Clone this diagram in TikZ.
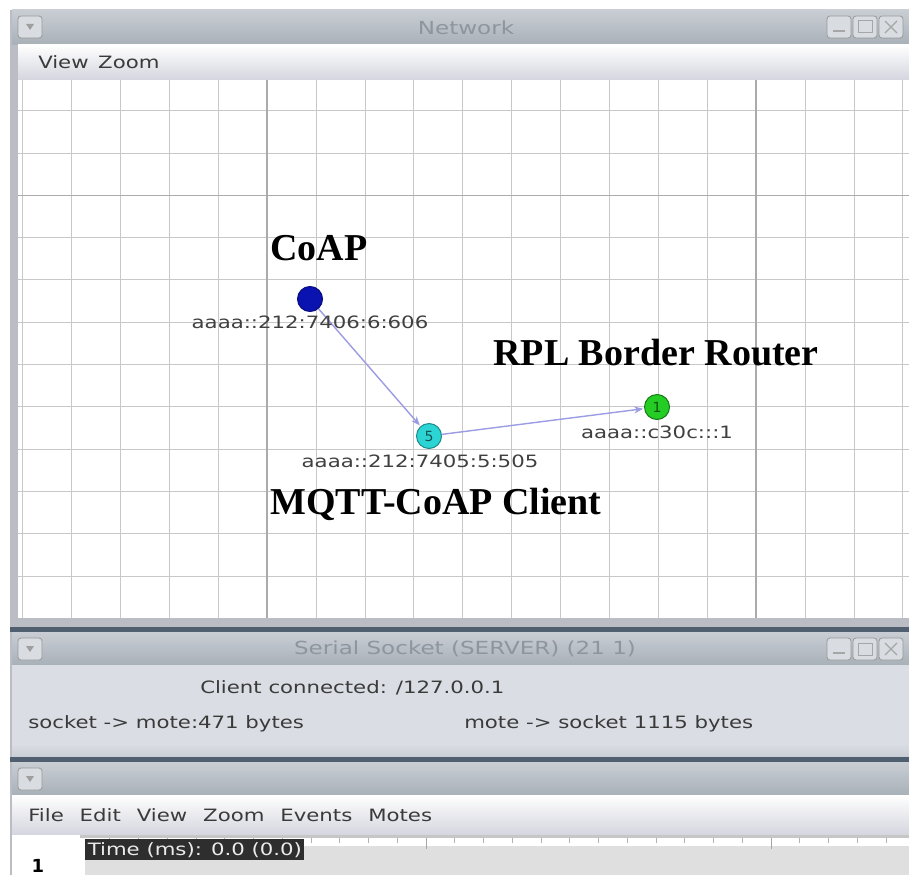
\documentclass[tikz,border=0pt]{standalone}
\usepackage{fontspec}
\setmainfont{Liberation Serif}
\newfontfamily\uifont{DejaVu Sans}
\newfontfamily\uibold{DejaVu Sans Bold}
\usetikzlibrary{arrows.meta}

\definecolor{titletop}{HTML}{C9CED4}
\definecolor{titlebot}{HTML}{A8B0B8}
\definecolor{titletext}{HTML}{8E969D}
\definecolor{framegray}{HTML}{BABEC4}
\definecolor{menubot}{HTML}{D4D5DE}
\definecolor{gridlight}{HTML}{C8C8C8}
\definecolor{griddark}{HTML}{ABABAB}
\definecolor{sepblue}{HTML}{4F5F70}
\definecolor{panelgray}{HTML}{DADDE3}
\definecolor{panellow}{HTML}{C9CDD5}
\definecolor{linkcol}{HTML}{9C9CE4}
\definecolor{labelgray}{HTML}{404040}
\definecolor{uitextcol}{HTML}{3A3A3A}
\definecolor{moteblue}{HTML}{0A12B0}
\definecolor{motecyan}{HTML}{2CD4D4}
\definecolor{motegreen}{HTML}{24CC24}

\begin{document}
\begin{tikzpicture}[x=1pt,y=-1pt,
  titlebar/.style={top color=titletop,bottom color=titlebot,draw=none},
  titletxt/.style={font=\uifont\fontsize{18}{20}\selectfont,xscale=1.28,text=titletext,inner sep=0},
  winbtn/.style={draw=gray!80,fill=titletop!70!white,rounded corners=3pt,line width=0.8pt},
  uitext/.style={font=\uifont\fontsize{17}{20}\selectfont,xscale=1.25,text=uitextcol,inner sep=0,anchor=base west},
  gridthin/.style={draw=gridlight,line width=1pt},
  gridthick/.style={draw=griddark,line width=1.6pt},
  addr/.style={font=\uifont\fontsize{17}{20}\selectfont,xscale=1.25,text=labelgray,inner sep=0},
  role/.style={font=\bfseries\fontsize{38}{40}\selectfont,text=black,inner sep=0},
  mote/.style={circle,minimum size=25pt,inner sep=0,line width=1pt,
    font=\uifont\fontsize{14}{14}\selectfont},
  link/.style={draw=linkcol,line width=1.4pt,-{Stealth[length=9pt,width=7pt]},shorten >=1pt}
]
\useasboundingbox (0,0) rectangle (909,875);
\fill[white] (0,0) rectangle (909,875);

% ---------- Network window ----------
\fill[framegray] (10,10) rectangle (909,630);
\shade[titlebar] (12,10) rectangle (909,45);
\draw[winbtn] (18,16) rectangle (42,38);
\fill[gray!75] (26,24) -- (34,24) -- (30,30) -- cycle;
\foreach \bx in {827,853,879}{\draw[winbtn] (\bx,16) rectangle ++(24,22);}
\draw[gray!70,line width=1.2pt] (833,31) -- (845,31);
\draw[gray!70,line width=1pt] (858,21) rectangle (872,33);
\draw[gray!70,line width=1.2pt] (885,21) -- (897,33) (897,21) -- (885,33);
\node[titletxt] (nettitle) at (466,28) {Network};

\shade[top color=white,bottom color=menubot] (18,45) rectangle (909,80);
\node[uitext] (netmenu) at (38,68) {View\hspace{0.45em}Zoom};

% plotting area with grid
\fill[white] (18,80) rectangle (909,618);
\foreach \k in {0,...,18}{
  \pgfmathsetmacro{\gx}{22.7+48.9*\k}
  \ifnum\k=5 \else\ifnum\k=15 \else
  \draw[gridthin] (\gx,80) -- (\gx,618);
  \fi\fi
}
\foreach \k in {0,1,3,4,5,6,7,8,9,10,11}{
  \pgfmathsetmacro{\gy}{110.7+42.3*\k}
  \draw[gridthin] (18,\gy) -- (909,\gy);
}
\draw[gridthick] (18,195.3) -- (909,195.3);
\draw[gridthick] (267.2,80) -- (267.2,618);
\draw[gridthick] (756.2,80) -- (756.2,618);
\fill[framegray] (10,618) rectangle (909,627);
\fill[sepblue] (10,627) rectangle (909,632);

% motes and their links
\node[mote,fill=moteblue,draw=moteblue!70!black] (coap) at (310,299) {};
\node[mote,fill=motecyan,draw=motecyan!65!black,text=motecyan!40!black] (client) at (429,436) {5};
\node[mote,fill=motegreen,draw=motegreen!60!black,text=motegreen!40!black] (border) at (657,407) {1};
\draw[link] (coap) -- (client);
\draw[link] (client) -- (border);

\node[addr] (coapaddr) at (310,322) {aaaa::212:7406:6:606};
\node[addr] (clientaddr) at (420,461) {aaaa::212:7405:5:505};
\node[addr] (borderaddr) at (657,432) {aaaa::c30c:::1};

\node[role] (coaprole) at (319,248) {CoAP};
\node[role] (borderrole) at (656,353) {RPL Border Router};
\node[role] (clientrole) at (436,504) {MQTT-CoAP Client};

% ---------- Serial Socket window ----------
\shade[titlebar] (12,632) rectangle (909,665);
\draw[winbtn] (18,638) rectangle (42,660);
\fill[gray!75] (26,646) -- (34,646) -- (30,652) -- cycle;
\foreach \bx in {827,853,879}{\draw[winbtn] (\bx,638) rectangle ++(24,22);}
\draw[gray!70,line width=1.2pt] (833,653) -- (845,653);
\draw[gray!70,line width=1pt] (858,643) rectangle (872,655);
\draw[gray!70,line width=1.2pt] (885,643) -- (897,655) (897,643) -- (885,655);
\node[titletxt] (serialtitle) at (465,649) {Serial Socket (SERVER) (21 1)};

\fill[panelgray] (12,665) rectangle (909,744);
\shade[top color=panelgray,bottom color=panellow] (12,744) rectangle (909,757);
\node[uitext] (connected) at (200,693) {Client connected: /127.0.0.1};
\node[uitext] (tomote) at (28,728) {socket -> mote:471 bytes};
\node[uitext] (tosocket) at (464,728) {mote -> socket 1115 bytes};
\fill[sepblue] (10,757) rectangle (909,762);
\fill[framegray] (10,632) rectangle (12,757);

% ---------- Timeline window ----------
\fill[framegray] (10,762) rectangle (12,875);
\shade[titlebar] (12,762) rectangle (909,795);
\draw[winbtn] (18,768) rectangle (42,790);
\fill[gray!75] (26,776) -- (34,776) -- (30,782) -- cycle;

\shade[top color=white,bottom color=menubot] (12,795) rectangle (909,835);
\node[uitext] (timemenu) at (28,821) {File\hspace{0.75em}Edit\hspace{0.75em}View\hspace{0.75em}Zoom\hspace{0.75em}Events\hspace{0.75em}Motes};

\fill[white] (12,835) rectangle (909,875);
\fill[gray!25] (85,846) rectangle (909,875);
\fill[gray!45] (80,835) rectangle (909,838);
\foreach \k in {1,...,28}{
  \pgfmathsetmacro{\tx}{81+28.75*\k}
  \ifnum\k=12 \draw[gray!70,line width=1pt] (\tx,838) -- (\tx,849);
  \else\ifnum\k=24 \draw[gray!70,line width=1pt] (\tx,838) -- (\tx,849);
  \else \draw[gray!60,line width=0.8pt] (\tx,838) -- (\tx,843);
  \fi\fi
}
\node[fill=black!82,text=white!92!black,font=\uifont\fontsize{17}{20}\selectfont,xscale=1.25,inner xsep=2pt,inner ysep=3pt,anchor=north west] (timebox) at (85,839) {Time (ms): 0.0 (0.0)};
\node[font=\uibold\fontsize{18}{18}\selectfont,text=black,inner sep=0,anchor=base] (rowone) at (38,872) {1};
\end{tikzpicture}
\end{document}
